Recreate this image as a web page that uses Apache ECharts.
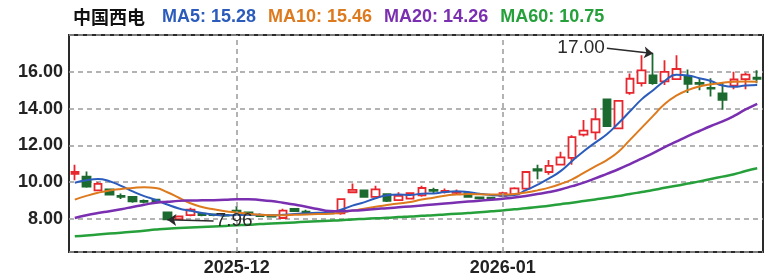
<!DOCTYPE html>
<html>
<head>
<meta charset="utf-8">
<script src="https://cdn.jsdelivr.net/npm/echarts@6/dist/echarts.min.js"></script>
<style>
html,body{margin:0;padding:0;background:#fff;}
#chart{width:768px;height:280px;}
</style>
</head>
<body>
<div id="chart"></div>
<script>
const stockName = '中国西电';
const dates = [
  '2025-11-11','2025-11-12','2025-11-13','2025-11-14','2025-11-17','2025-11-18','2025-11-19','2025-11-20','2025-11-21','2025-11-24',
  '2025-11-25','2025-11-26','2025-11-27','2025-11-28','2025-12-01','2025-12-02','2025-12-03','2025-12-04','2025-12-05','2025-12-08',
  '2025-12-09','2025-12-10','2025-12-11','2025-12-12','2025-12-15','2025-12-16','2025-12-17','2025-12-18','2025-12-19','2025-12-22',
  '2025-12-23','2025-12-24','2025-12-25','2025-12-26','2025-12-29','2025-12-30','2025-12-31','2026-01-05','2026-01-06','2026-01-07',
  '2026-01-08','2026-01-09','2026-01-12','2026-01-13','2026-01-14','2026-01-15','2026-01-16','2026-01-19','2026-01-20','2026-01-21',
  '2026-01-22','2026-01-23','2026-01-26','2026-01-27','2026-01-28','2026-01-29','2026-01-30','2026-02-02','2026-02-03','2026-02-04'
];
const opens = [
  10.45,10.30,9.55,9.60,9.25,9.20,8.98,9.05,8.35,7.99,
  8.20,8.28,8.25,8.22,8.45,8.35,8.22,8.18,8.05,8.55,
  8.40,8.32,8.38,8.30,9.45,9.55,9.20,9.35,9.02,9.10,
  9.28,9.58,9.47,9.42,9.40,9.17,9.16,9.25,9.33,9.65,
  10.70,10.55,10.95,11.32,12.58,12.70,14.50,12.92,14.85,15.38,
  15.80,15.48,15.60,15.72,15.40,15.12,14.82,15.25,15.60,15.68
];
const closes = [
  10.55,9.75,9.90,9.32,9.20,8.95,8.93,8.90,7.98,8.13,
  8.50,8.20,8.20,8.18,8.40,8.25,8.15,8.12,8.45,8.42,
  8.36,8.27,8.30,9.08,9.58,9.20,9.60,8.98,9.25,9.40,
  9.68,9.52,9.52,9.47,9.20,9.12,9.10,9.40,9.66,10.55,
  10.62,10.88,11.35,12.45,12.80,13.42,13.05,14.42,15.62,16.08,
  15.38,16.00,16.15,15.35,15.34,15.08,14.48,15.58,15.85,15.62
];
const lows = [
  10.10,9.70,9.50,9.28,9.08,8.88,8.85,8.85,7.96,7.97,
  8.15,8.15,8.15,8.12,8.25,8.20,8.10,8.08,8.00,8.38,
  8.30,8.22,8.25,8.22,9.43,9.15,9.15,8.92,8.98,9.05,
  9.20,9.40,9.38,9.35,9.15,9.05,9.05,9.20,9.28,9.60,
  10.15,10.40,10.90,10.95,12.48,12.30,13.00,12.88,14.75,15.20,
  15.30,15.28,15.55,14.85,15.00,14.65,13.93,15.05,15.05,15.38
];
const highs = [
  10.95,10.58,10.00,9.65,9.38,9.22,9.05,9.10,8.40,8.16,
  8.60,8.32,8.30,8.28,8.70,8.40,8.30,8.22,8.55,8.58,
  8.50,8.35,8.42,9.12,9.92,9.58,9.80,9.40,9.45,9.45,
  9.80,9.70,9.65,9.60,9.45,9.20,9.20,9.48,9.72,10.60,
  10.95,11.20,11.65,12.55,13.38,14.02,14.55,14.45,15.90,16.90,
  17.00,16.63,16.90,16.13,15.65,15.65,15.45,16.00,15.95,16.08
];
const ma5 = [
  9.97,10.10,10.17,10.05,9.80,9.50,9.24,9.03,8.78,8.57,
  8.44,8.32,8.23,8.20,8.21,8.22,8.22,8.20,8.22,8.27,
  8.30,8.33,8.36,8.50,8.72,8.90,9.12,9.28,9.32,9.30,
  9.37,9.38,9.46,9.50,9.46,9.37,9.30,9.26,9.30,9.56,
  9.86,10.20,10.60,11.15,11.68,12.15,12.60,13.20,13.85,14.50,
  15.00,15.50,15.84,15.80,15.65,15.50,15.25,15.18,15.26,15.28
];
const ma10 = [
  9.05,9.25,9.42,9.55,9.63,9.68,9.72,9.68,9.45,9.15,
  8.85,8.65,8.52,8.42,8.35,8.28,8.22,8.20,8.20,8.22,
  8.24,8.26,8.28,8.35,8.45,8.55,8.66,8.76,8.84,8.92,
  9.05,9.15,9.26,9.32,9.35,9.34,9.32,9.32,9.35,9.43,
  9.55,9.70,9.90,10.15,10.50,10.85,11.20,11.65,12.30,12.95,
  13.60,14.25,14.70,15.00,15.20,15.32,15.40,15.46,15.47,15.46
];
const ma20 = [
  8.05,8.20,8.32,8.42,8.53,8.65,8.77,8.88,8.93,8.98,
  9.00,9.01,9.02,9.04,9.07,9.07,9.03,8.97,8.88,8.78,
  8.66,8.54,8.43,8.42,8.45,8.49,8.54,8.58,8.63,8.68,
  8.73,8.78,8.84,8.89,8.94,8.99,9.04,9.10,9.16,9.25,
  9.35,9.46,9.60,9.78,9.97,10.20,10.45,10.70,10.98,11.28,
  11.58,11.90,12.20,12.50,12.78,13.05,13.30,13.60,13.95,14.26
];
const ma60 = [
  7.06,7.10,7.15,7.20,7.25,7.30,7.36,7.42,7.47,7.50,
  7.53,7.56,7.59,7.62,7.65,7.68,7.72,7.75,7.78,7.81,
  7.84,7.87,7.90,7.93,7.97,8.00,8.03,8.06,8.10,8.13,
  8.17,8.20,8.24,8.28,8.32,8.36,8.41,8.46,8.52,8.58,
  8.65,8.72,8.80,8.88,8.97,9.06,9.15,9.25,9.35,9.46,
  9.57,9.69,9.80,9.92,10.04,10.17,10.30,10.43,10.60,10.75
];
const monthTicks = ['2025-12-01', '2026-01-05'];

const colors = { ma5: '#2b5cbc', ma10: '#dd7a1e', ma20: '#7a2fb0', ma60: '#26a03a', up: '#e8262e', down: '#1c6a30' };

const candles = dates.map((d, i) => [opens[i], closes[i], lows[i], highs[i]]);
let hiIdx = 0, loIdx = 0;
highs.forEach((v, i) => { if (v > highs[hiIdx]) hiIdx = i; });
lows.forEach((v, i) => { if (v < lows[loIdx]) loIdx = i; });
const hiVal = highs[hiIdx], loVal = lows[loIdx];
const last = a => a[a.length - 1].toFixed(2);

const chart = echarts.init(document.getElementById('chart'), null, { renderer: 'canvas' });
const fam = '"Liberation Sans", Arial, "Noto Sans CJK SC", sans-serif';
chart.setOption({
  animation: false,
  backgroundColor: '#fff',
  title: {
    left: 68, top: 3,
    text: '{n|' + stockName + '}{a|MA5: ' + last(ma5) + '}{b|MA10: ' + last(ma10) + '}{c|MA20: ' + last(ma20) + '}{d|MA60: ' + last(ma60) + '}',
    textStyle: {
      fontFamily: fam,
      rich: {
        n: { fontSize: 18, fontWeight: 'bold', color: '#111', fontFamily: '"Noto Sans CJK SC", sans-serif', padding: [0, 17, 0, 0] },
        a: { fontSize: 18, fontWeight: 'bold', color: colors.ma5, fontFamily: fam, padding: [0, 12, 0, 0] },
        b: { fontSize: 18, fontWeight: 'bold', color: colors.ma10, fontFamily: fam, padding: [0, 12, 0, 0] },
        c: { fontSize: 18, fontWeight: 'bold', color: colors.ma20, fontFamily: fam, padding: [0, 12, 0, 0] },
        d: { fontSize: 18, fontWeight: 'bold', color: colors.ma60, fontFamily: fam }
      }
    }
  },
  grid: { left: 69, right: 5, top: 35, bottom: 28, show: true, borderColor: '#2a2a2a', borderWidth: 2, backgroundColor: 'transparent' },
  xAxis: {
    type: 'category',
    data: dates,
    boundaryGap: true,
    axisLine: { show: false },
    axisTick: { show: false },
    splitLine: { show: false },
    axisLabel: {
      interval: (i, v) => monthTicks.includes(v),
      formatter: v => v.slice(0, 7),
      fontSize: 18, fontWeight: 'bold', color: '#222', fontFamily: fam, margin: 7
    }
  },
  yAxis: {
    type: 'value',
    min: 6.2, max: 18, splitNumber: 6,
    axisLine: { show: false },
    axisTick: { show: false },
    axisLabel: {
      formatter: v => v.toFixed(2), showMinLabel: false, showMaxLabel: false,
      fontSize: 18, fontWeight: 'bold', color: '#222', fontFamily: fam, margin: 6
    },
    splitLine: { lineStyle: { color: '#9a9a9a', type: [5, 4], width: 1.5 } }
  },
  series: [
    {
      type: 'candlestick',
      data: candles,
      barWidth: 8,
      itemStyle: { color: '#ffffff', color0: colors.down, borderColor: colors.up, borderColor0: colors.down, borderWidth: 1.8 },
      markLine: {
        silent: true,
        symbol: ['none', 'arrow'],
        symbolSize: 9,
        lineStyle: { color: '#2a2a2a', width: 1.5, type: 'solid' },
        label: { show: true, position: 'start', fontSize: 19, color: '#2a2a2a', fontFamily: fam, distance: 2 },
        data: [
          [
            { coord: [dates[hiIdx - 4], hiVal + 0.28], label: { formatter: hiVal.toFixed(2) } },
            { coord: [dates[hiIdx], hiVal] }
          ],
          [
            { coord: [dates[loIdx + 4], loVal - 0.08], label: { formatter: loVal.toFixed(2) } },
            { coord: [dates[loIdx], loVal] }
          ]
        ]
      }
    },
    { type: 'line', data: ma5, smooth: true, symbol: 'none', lineStyle: { color: colors.ma5, width: 2 } },
    { type: 'line', data: ma10, smooth: true, symbol: 'none', lineStyle: { color: colors.ma10, width: 2 } },
    { type: 'line', data: ma20, smooth: true, symbol: 'none', lineStyle: { color: colors.ma20, width: 2.5 } },
    {
      type: 'line', data: ma60, smooth: true, symbol: 'none', lineStyle: { color: colors.ma60, width: 2.5 },
      markLine: {
        silent: true, symbol: 'none', label: { show: false },
        lineStyle: { color: '#9a9a9a', type: [5, 4], width: 1.5 },
        data: monthTicks.map(d => ({ xAxis: d }))
      }
    }
  ]
});
</script>
</body>
</html>
